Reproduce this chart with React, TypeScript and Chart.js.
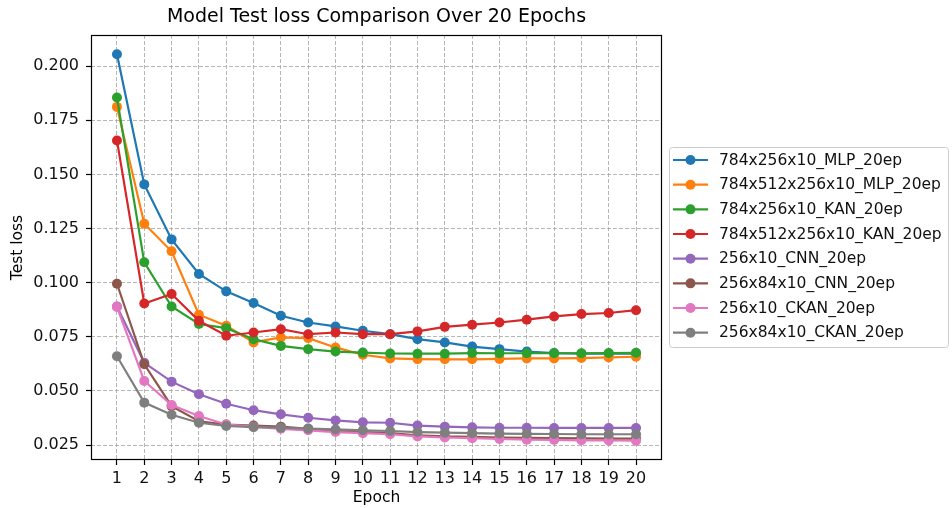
import React, { useEffect, useRef } from "react";
import { Chart, registerables } from "chart.js";

Chart.register(...registerables);

// Epoch numbers on the x axis
const epochs = [1, 2, 3, 4, 5, 6, 7, 8, 9, 10, 11, 12, 13, 14, 15, 16, 17, 18, 19, 20];
const yTickValues = [0.025, 0.05, 0.075, 0.1, 0.125, 0.15, 0.175, 0.2];

const titleText = "Model Test loss Comparison Over 20 Epochs";
const xLabel = "Epoch";
const yLabel = "Test loss";

const seriesNames = [
  "784x256x10_MLP_20ep",
  "784x512x256x10_MLP_20ep",
  "784x256x10_KAN_20ep",
  "784x512x256x10_KAN_20ep",
  "256x10_CNN_20ep",
  "256x84x10_CNN_20ep",
  "256x10_CKAN_20ep",
  "256x84x10_CKAN_20ep",
];

// Test loss per epoch for each model
const mlpSmall = [0.2055, 0.1454, 0.12, 0.104, 0.096, 0.0906, 0.0847, 0.0816, 0.0798, 0.0778, 0.0762, 0.0739, 0.0724, 0.0705, 0.0693, 0.0682, 0.0675, 0.0672, 0.0672, 0.0672];
const mlpLarge = [0.1812, 0.1272, 0.1145, 0.0852, 0.0801, 0.0724, 0.0747, 0.0744, 0.0701, 0.0667, 0.065, 0.0647, 0.0646, 0.0646, 0.0648, 0.065, 0.065, 0.0652, 0.0655, 0.0658];
const kanSmall = [0.1855, 0.1094, 0.089, 0.0809, 0.079, 0.0739, 0.0708, 0.0693, 0.0682, 0.0677, 0.0673, 0.0672, 0.0672, 0.0675, 0.0674, 0.0674, 0.0674, 0.0674, 0.0675, 0.0676];
const kanLarge = [0.1657, 0.0904, 0.0948, 0.0824, 0.0755, 0.077, 0.0785, 0.0762, 0.077, 0.0762, 0.0762, 0.0775, 0.0796, 0.0806, 0.0816, 0.0829, 0.0844, 0.0855, 0.086, 0.0873];
const cnnSmall = [0.089, 0.063, 0.0543, 0.0485, 0.0441, 0.0411, 0.0392, 0.0376, 0.0364, 0.0355, 0.0353, 0.034, 0.0335, 0.0332, 0.033, 0.033, 0.0329, 0.0329, 0.0329, 0.0329];
const cnnLarge = [0.0995, 0.0623, 0.043, 0.036, 0.0345, 0.034, 0.0335, 0.0325, 0.0315, 0.031, 0.0305, 0.0295, 0.029, 0.0288, 0.0285, 0.0283, 0.0282, 0.0281, 0.028, 0.028];
const ckanSmall = [0.0888, 0.0546, 0.0435, 0.0384, 0.0345, 0.0335, 0.0325, 0.0318, 0.031, 0.0305, 0.03, 0.029, 0.0285, 0.0282, 0.0278, 0.0275, 0.0274, 0.0272, 0.0271, 0.027];
const ckanLarge = [0.066, 0.0446, 0.039, 0.0353, 0.0338, 0.0333, 0.033, 0.0326, 0.0322, 0.0318, 0.0315, 0.031, 0.0307, 0.0305, 0.0303, 0.0302, 0.0301, 0.03, 0.03, 0.03];

const seriesValues = [mlpSmall, mlpLarge, kanSmall, kanLarge, cnnSmall, cnnLarge, ckanSmall, ckanLarge];

const colors = ["#1f77b4", "#ff7f0e", "#2ca02c", "#d62728", "#9467bd", "#8c564b", "#e377c2", "#7f7f7f"];

const FONT = '"DejaVu Sans", "Liberation Sans", sans-serif';

// Title, axis titles, full frame and boxed legend to the right of the plot
const decorations = {
  id: "decorations",
  afterDraw(chart: any) {
    const { ctx, chartArea: a } = chart;
    const cx = (a.left + a.right) / 2;
    const cy = (a.top + a.bottom) / 2;
    ctx.save();

    ctx.strokeStyle = "#000";
    ctx.lineWidth = 1.2;
    ctx.setLineDash([]);
    ctx.strokeRect(a.left + 0.5, a.top + 0.5, a.right - a.left - 1, a.bottom - a.top - 1);

    ctx.fillStyle = "#000";
    ctx.textAlign = "center";
    ctx.textBaseline = "middle";
    ctx.font = `19px ${FONT}`;
    ctx.fillText(titleText, cx, 17);

    ctx.font = `15.5px ${FONT}`;
    ctx.fillText(xLabel, cx, 498);
    ctx.save();
    ctx.translate(18, cy);
    ctx.rotate(-Math.PI / 2);
    ctx.fillText(yLabel, 0, 0);
    ctx.restore();

    // legend
    const lx = a.right + 7;
    const ly = 147;
    const lw = 279;
    const lh = 200;
    ctx.beginPath();
    ctx.roundRect(lx + 0.5, ly + 0.5, lw, lh, 3);
    ctx.fillStyle = "rgba(255,255,255,0.8)";
    ctx.fill();
    ctx.strokeStyle = "#cccccc";
    ctx.lineWidth = 1;
    ctx.stroke();

    ctx.textAlign = "left";
    ctx.font = `15.5px ${FONT}`;
    seriesNames.forEach((name, i) => {
      const y = ly + 13 + i * 24.67;
      ctx.strokeStyle = colors[i];
      ctx.lineWidth = 2.2;
      ctx.beginPath();
      ctx.moveTo(lx + 4, y);
      ctx.lineTo(lx + 39, y);
      ctx.stroke();
      ctx.fillStyle = colors[i];
      ctx.beginPath();
      ctx.arc(lx + 21.5, y, 5, 0, Math.PI * 2);
      ctx.fill();
      ctx.fillStyle = "#111";
      ctx.fillText(name, lx + 50, y + 0.5);
    });

    ctx.restore();
  },
};

export default function App() {
  const canvasRef = useRef<HTMLCanvasElement>(null);

  useEffect(() => {
    document.body.style.margin = "0";
    const canvas = canvasRef.current;
    if (!canvas) return;

    const datasets = seriesValues.map((vals, i) => ({
      label: seriesNames[i],
      data: vals.map((v, j) => ({ x: epochs[j], y: v })),
      borderColor: colors[i],
      backgroundColor: colors[i],
      pointBackgroundColor: colors[i],
      pointBorderColor: colors[i],
      pointBorderWidth: 0,
      pointRadius: 5,
      borderWidth: 2.2,
      tension: 0,
      fill: false,
      order: seriesValues.length - i,
    }));

    const gridOpts = {
      color: "rgba(165,165,165,0.8)",
      lineWidth: 1,
      drawTicks: true,
      tickLength: 5,
      tickColor: "#000",
      tickWidth: 1.2,
      tickBorderDash: [],
    };

    const chart = new Chart(canvas, {
      type: "line",
      data: { datasets },
      plugins: [decorations],
      options: {
        responsive: false,
        animation: false,
        devicePixelRatio: 1,
        layout: { padding: { top: 35, right: 290, left: 0, bottom: 0 } },
        plugins: {
          legend: { display: false },
          title: { display: false },
          tooltip: { enabled: false },
        },
        scales: {
          x: {
            type: "linear",
            min: 0.05,
            max: 20.95,
            afterFit: (scale: any) => {
              scale.height = 48;
            },
            afterBuildTicks: (scale: any) => {
              scale.ticks = epochs.map((v) => ({ value: v }));
            },
            ticks: {
              autoSkip: false,
              maxRotation: 0,
              padding: 4,
              color: "#111",
              font: { family: FONT, size: 16 },
              callback: (v: any) => String(v),
            },
            grid: gridOpts,
            border: { display: false, dash: [4, 2] },
          },
          y: {
            type: "linear",
            min: 0.0181,
            max: 0.2144,
            afterFit: (scale: any) => {
              scale.width = 91;
            },
            afterBuildTicks: (scale: any) => {
              scale.ticks = yTickValues.map((v) => ({ value: v }));
            },
            ticks: {
              padding: 7,
              color: "#111",
              font: { family: FONT, size: 16 },
              callback: (v: any) => Number(v).toFixed(3),
            },
            grid: gridOpts,
            border: { display: false, dash: [4, 2] },
          },
        },
      },
    });

    return () => chart.destroy();
  }, []);

  return (
    <canvas
      ref={canvasRef}
      width={952}
      height={508}
      style={{ display: "block", width: 952, height: 508 }}
    />
  );
}
